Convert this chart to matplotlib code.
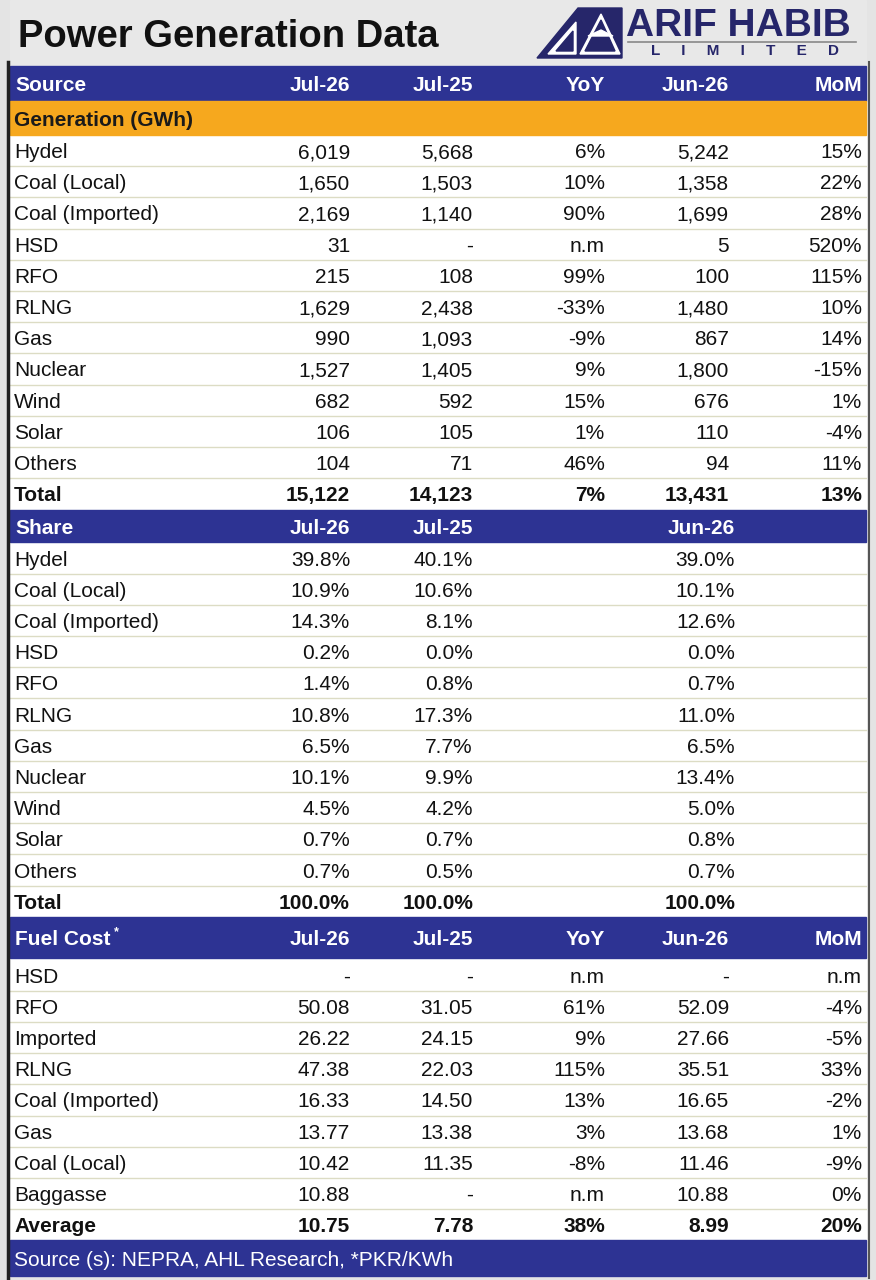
import matplotlib.pyplot as plt
from matplotlib.patches import Rectangle, Polygon

# ---- data ----
gen_sources = ['Hydel', 'Coal (Local)', 'Coal (Imported)', 'HSD', 'RFO', 'RLNG', 'Gas',
               'Nuclear', 'Wind', 'Solar', 'Others', 'Total']
gen_jul26 = ['6,019', '1,650', '2,169', '31', '215', '1,629', '990', '1,527', '682', '106', '104', '15,122']
gen_jul25 = ['5,668', '1,503', '1,140', '-', '108', '2,438', '1,093', '1,405', '592', '105', '71', '14,123']
gen_yoy = ['6%', '10%', '90%', 'n.m', '99%', '-33%', '-9%', '9%', '15%', '1%', '46%', '7%']
gen_jun26 = ['5,242', '1,358', '1,699', '5', '100', '1,480', '867', '1,800', '676', '110', '94', '13,431']
gen_mom = ['15%', '22%', '28%', '520%', '115%', '10%', '14%', '-15%', '1%', '-4%', '11%', '13%']

share_jul26 = ['39.8%', '10.9%', '14.3%', '0.2%', '1.4%', '10.8%', '6.5%', '10.1%', '4.5%', '0.7%', '0.7%', '100.0%']
share_jul25 = ['40.1%', '10.6%', '8.1%', '0.0%', '0.8%', '17.3%', '7.7%', '9.9%', '4.2%', '0.7%', '0.5%', '100.0%']
share_jun26 = ['39.0%', '10.1%', '12.6%', '0.0%', '0.7%', '11.0%', '6.5%', '13.4%', '5.0%', '0.8%', '0.7%', '100.0%']

fuel_sources = ['HSD', 'RFO', 'Imported', 'RLNG', 'Coal (Imported)', 'Gas', 'Coal (Local)', 'Baggasse', 'Average']
fuel_jul26 = ['-', '50.08', '26.22', '47.38', '16.33', '13.77', '10.42', '10.88', '10.75']
fuel_jul25 = ['-', '31.05', '24.15', '22.03', '14.50', '13.38', '11.35', '-', '7.78']
fuel_yoy = ['n.m', '61%', '9%', '115%', '13%', '3%', '-8%', 'n.m', '38%']
fuel_jun26 = ['-', '52.09', '27.66', '35.51', '16.65', '13.68', '11.46', '10.88', '8.99']
fuel_mom = ['n.m', '-4%', '-5%', '33%', '-2%', '1%', '-9%', '0%', '20%']

BLUE = '#2d3393'
ORANGE = '#f6a81e'
NAVY = '#26266a'
LINE = '#dcdcc4'
NARROW = ['Liberation Sans Narrow', 'Liberation Sans', 'DejaVu Sans']
WIDE = ['Liberation Sans', 'DejaVu Sans']

fig = plt.figure(figsize=(8.76, 12.8), dpi=100, facecolor='#e4e4e4')
ax = fig.add_axes([0, 0, 1, 1])
ax.set_xlim(0, 876)
ax.set_ylim(1280, 0)
ax.axis('off')

L, R = 10, 866
col_x = [350, 473, 605, 729, 862]   # right edges of value columns
fs = 15
rh = 31.2
dy = 2   # small shift so text sits like in the reference

# header band + title
ax.add_patch(Rectangle((L, 0), R - L, 66, color='#e8e8e8', zorder=0))
ax.text(18, 37, 'Power Generation Data', fontsize=27.5, fontweight='bold', family=WIDE,
        va='center', ha='left', color='#111111')

# logo
ax.add_patch(Polygon([(537, 58), (578, 8), (622, 8), (622, 58)], color=NAVY))
ax.add_patch(Polygon([(580, 54), (601, 14), (620, 54)], color='white'))
ax.add_patch(Polygon([(585, 51), (601, 20), (615, 51)], color=NAVY))
ax.add_patch(Polygon([(588, 36), (601, 30), (613, 36)], color='white'))
ax.add_patch(Polygon([(548, 54), (576, 22), (576, 54)], color='white'))
ax.add_patch(Polygon([(556, 51), (573, 31), (573, 51)], color=NAVY))
ax.text(626, 26, 'ARIF HABIB', fontsize=28, fontweight='bold', family=NARROW,
        color=NAVY, va='center', ha='left')
ax.plot([628, 856], [42, 42], color='#888888', lw=1.2)
ax.text(745, 51, 'L     I     M     I     T     E     D', fontsize=11, family=NARROW,
        color=NAVY, va='center', ha='center', fontweight='bold')

# white table body
ax.add_patch(Rectangle((L, 66), R - L, 1210, color='white', zorder=0))


def header(y0, h, first, labels, cols):
    ax.add_patch(Rectangle((L, y0), R - L, h, color=BLUE, zorder=1))
    yc = y0 + h / 2 + dy
    ax.text(15, yc, first, fontsize=fs, fontweight='bold', family=NARROW,
            color='white', va='center', ha='left', zorder=2)
    for lab, x in zip(labels, cols):
        ax.text(x, yc, lab, fontsize=fs, fontweight='bold', family=NARROW,
                color='white', va='center', ha='right', zorder=2)


def rows(y0, names, columns, cols, bold_last=True):
    for i, name in enumerate(names):
        yc = y0 + rh * (i + 0.5) + dy
        bold = bold_last and i == len(names) - 1
        w = 'bold' if bold else 'normal'
        ax.text(14, yc, name, fontsize=fs, fontweight=w, family=NARROW,
                color='#111111', va='center', ha='left')
        for vals, x in zip(columns, cols):
            ax.text(x, yc, vals[i], fontsize=fs, fontweight=w, family=NARROW,
                    color='#111111', va='center', ha='right')
        if i < len(names) - 1:
            ax.plot([L, R], [y0 + rh * (i + 1)] * 2, color=LINE, lw=1)


# generation
header(66, 35, 'Source', ['Jul-26', 'Jul-25', 'YoY', 'Jun-26', 'MoM'], col_x)
ax.add_patch(Rectangle((L, 101), R - L, 34, color=ORANGE, zorder=1))
ax.text(14, 118 + dy, 'Generation (GWh)', fontsize=fs, fontweight='bold', family=NARROW,
        color='#1a1a1a', va='center', ha='left', zorder=2)
rows(135, gen_sources, [gen_jul26, gen_jul25, gen_yoy, gen_jun26, gen_mom], col_x)

# share
header(510, 32, 'Share', ['Jul-26', 'Jul-25', 'Jun-26'], [350, 473, 735])
rows(542.4, gen_sources, [share_jul26, share_jul25, share_jun26], [350, 473, 735])

# fuel cost
header(917, 41, 'Fuel Cost', ['Jul-26', 'Jul-25', 'YoY', 'Jun-26', 'MoM'], col_x)
ax.text(114, 932, '*', fontsize=9, fontweight='bold', family=NARROW, color='white',
        va='center', ha='left', zorder=2)
rows(959.5, fuel_sources, [fuel_jul26, fuel_jul25, fuel_yoy, fuel_jun26, fuel_mom], col_x)

# footer
ax.add_patch(Rectangle((L, 1240), R - L, 36, color=BLUE, zorder=1))
ax.text(14, 1258 + dy, 'Source (s): NEPRA, AHL Research, *PKR/KWh', fontsize=15, family=NARROW,
        color='white', va='center', ha='left', zorder=2)

# outer border
ax.plot([L - 2, L - 2], [62, 1278], color='#222222', lw=2.5)
ax.plot([R + 3, R + 3], [62, 1278], color='#555555', lw=1.5)

fig.savefig('out.png', dpi=100, facecolor=fig.get_facecolor())
